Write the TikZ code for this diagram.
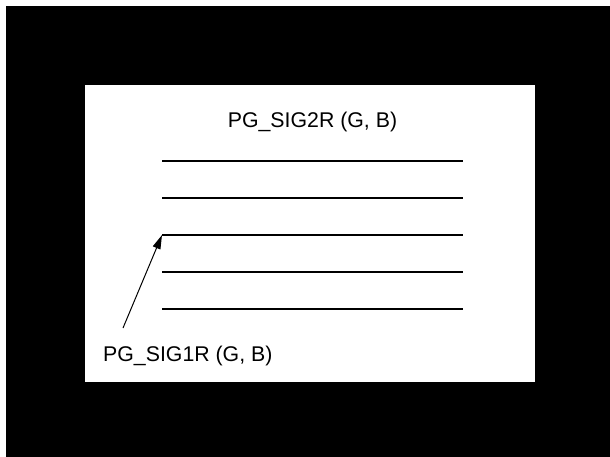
\documentclass[tikz,border=0pt]{standalone}
\usepackage{fontspec}
\setmainfont{Liberation Sans}
\usetikzlibrary{arrows.meta}
\begin{document}
\begin{tikzpicture}[x=1pt,y=-1pt,
  sigline/.style={line width=2.5pt},
  lbl/.style={font=\fontsize{21.3}{25}\selectfont, inner sep=0pt}]
\useasboundingbox (0,0) rectangle (610,457);
\fill[white] (0,0) rectangle (610,457);
\fill[black] (6,6) rectangle (610,457);
\fill[white] (85,85) rectangle (535,382);
\coordinate (l1a) at (162,161); \coordinate (l1b) at (463,161);
\coordinate (l2a) at (162,198); \coordinate (l2b) at (463,198);
\coordinate (l3a) at (162,235); \coordinate (l3b) at (463,235);
\coordinate (l4a) at (162,272); \coordinate (l4b) at (463,272);
\coordinate (l5a) at (162,309); \coordinate (l5b) at (463,309);
\draw[sigline] (l1a) -- (l1b);
\draw[sigline] (l2a) -- (l2b);
\draw[sigline] (l3a) -- (l3b);
\draw[sigline] (l4a) -- (l4b);
\draw[sigline] (l5a) -- (l5b);
\node[lbl] (t2) at (312.5,122) {PG\_SIG2R (G, B)};
\node[lbl,anchor=west] (t1) at (103,356) {PG\_SIG1R (G, B)};
\coordinate (tail) at (123,328);
\draw[line width=1pt,-{Triangle[length=14pt,width=8pt]}] (tail) -- (l3a);
\end{tikzpicture}
\end{document}
